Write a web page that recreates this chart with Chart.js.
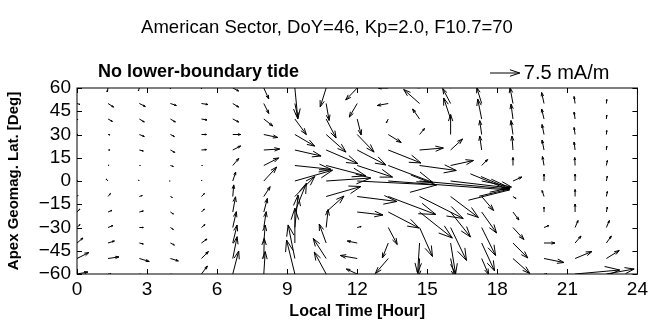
<!DOCTYPE html>
<html>
<head>
<meta charset="utf-8">
<script src="https://cdn.jsdelivr.net/npm/chart.js@4"></script>
<style>
  html, body { margin: 0; padding: 0; background: #fff; }
</style>
</head>
<body>
<canvas id="chart" width="652" height="322"></canvas>
<script>
// grid of the current field: local time columns, latitude rows
const localTime = [0, 1.33, 2.67, 4, 5.33, 6.67, 8, 9.33, 10.67, 12, 13.33, 14.67, 16, 17.33, 18.67, 20, 21.33, 22.67, 24];
const latitude = [60, 50, 40, 30, 20, 10, 0, -10, -20, -30, -40, -50, -60];

// eastward current (mA/m), one row per latitude
const eastward = [
  [0, -0.25, -0.25, 0, 0, 1.5, 1.25, 0.75, -1.5, -2.9, -2.5, -1.25, -1.5, -0.75, -0.75, -0.25, 0, 0, 0],
  [0.75, 1.4, 1.5, 1.5, 1.6, 1.5, 1.25, 0.75, 0.75, -2, -2.75, -4, -2, -1.25, -0.75, -0.6, -0.25, 0.1, 0.75],
  [0.25, 1.1, 1.25, 1.25, 1.4, 1.5, 2.25, 2.9, 2.5, 1, -0.5, -1.75, -1.75, -1, -0.5, -0.6, -0.25, 0.1, 0.25],
  [0.25, 0.5, 1.25, 1, 1.25, 2, 3.5, 5, 5, 4.25, 3.25, 1.25, 0, -0.5, -0.5, -0.5, -0.25, 0.1, 0.25],
  [0.1, 0.5, 1, 1.1, 1.25, 2, 4, 6.6, 8, 7.25, 8.25, 6, 3, -0.5, -0.25, -0.5, -0.25, 0.1, 0.1],
  [0, 0.25, 0.25, 0.75, 0.25, 1.5, 3.75, 9.1, 10, 8.9, 11.25, 9.25, 5.75, 1.5, 0, -0.4, -0.1, 0.25, 0],
  [0.1, -0.5, -0.25, -0.25, 0.1, 0.75, 3.25, 9.5, 11.25, 20, 30.5, 22.75, 15, 7.5, 2.25, 0, 0, 0.25, 0.1],
  [0.25, 0.6, 0.75, 0.5, 0.75, 0.25, 1.6, 5, 8.75, 10, 12, 11, 7, 3, 0.75, -0.5, 0, 0.25, 0.25],
  [0.75, 1, 1, 0.75, 0.75, 0.7, 0.9, 2.9, 4.5, 6.5, 7.75, 8.25, 5, 3.75, 1.5, 0, 0, 0.25, 0.75],
  [0.75, 1.25, 1, 0.75, 0.9, 0.9, 0.6, 0.8, 0.5, 1, 2.25, 3.25, 4, 3.5, 2.75, 1.25, 0.75, 0.75, 0.75],
  [1.5, 1.6, 1, 1, 1.4, 1.1, 0.35, 0, -1.75, -2.5, -1.5, -0.5, 1.25, 3.25, 3.75, 2.75, 1.5, 1.25, 1.5],
  [3, 2.75, 2.5, 2, 1.75, 1.1, 0.1, -1.7, -3.25, -4.25, -3.25, -0.25, 1, 1.75, 4.25, 5, 4.25, 3.25, 3],
  [2.75, 0.75, 0.75, 0.75, 1.5, 1.5, 0.35, -2.1, -3, -2.75, -2.5, 0, 0.25, 0.5, 1.5, 0.75, 11.25, 7, 2.75]
];

// northward current (mA/m), one row per latitude
const northward = [
  [0, -1, -0.75, -0.25, -0.25, -0.75, -2.75, -7.75, -4.75, -3, 0, 0.25, 0.75, 1, 1.25, 0.75, 0.5, 0.25, 0],
  [-0.25, -0.9, -0.75, -0.5, -0.25, -0.9, -2.5, -3.5, -4.25, -3.4, -0.5, 3.5, 3.75, 4, 4, 2.75, 1.75, 1, -0.25],
  [-0.25, -0.6, -0.75, -0.75, -0.25, -0.75, -1.75, -3.9, -4.75, -4, -1, 2.5, 5.25, 5, 3.75, 2.5, 1.75, 1, -0.25],
  [0, -0.1, -0.5, -0.5, 0, 0, -0.75, -2.9, -4.4, -4.4, -2, 1.5, 5, 3.5, 3.5, 2.5, 1.75, 1, 0],
  [0, 0, -0.25, -0.6, 0.1, 1, 0.25, -1.5, -3.4, -3.75, -3.25, 0.5, 2.75, 3.5, 3.5, 2.5, 2, 1, 0],
  [0, 0.1, 0, -0.25, 0, 1.75, 1.9, -0.95, -2.6, -2.9, -4.25, -1.25, 1.25, 1.5, 2, 2.25, 2, 1.25, 0],
  [0.1, 0.5, 0.25, 0, 0.25, 2.25, 3.5, 2.7, 0.75, -1, -2.25, -2, -1.75, -1.5, 1, 1.75, 1.75, 1.25, 0.1],
  [0.25, 0.75, 0.25, -0.25, 0.75, 2.9, 2.45, 5, 2.5, -1.25, -4.5, -5.5, -5.25, -3.5, -0.5, 1.5, 1.75, 1.25, 0.25],
  [0.75, 0.4, 0.25, -0.5, 0.75, 3.8, 3.4, 7.2, 4, -0.75, -4, -6.5, -6.25, -5.25, -2, 1.25, 2, 1.25, 0.75],
  [0.75, 0.5, 0, -0.5, 0.75, 3.95, 3.95, 8.1, 4.5, 0.25, -4.25, -7.25, -8.25, -7, -3, 0.5, 1.75, 1.75, 0.75],
  [1.25, 0.5, -0.25, -0.5, 1, 4.5, 4.5, 8.7, 4.75, 0.5, -3.75, -7.5, -7.75, -7, -3.75, 0, 1.75, 1.75, 1.25],
  [1.5, 0.4, -0.75, -0.6, 1.75, 5.45, 5.05, 8.4, 5, 0.75, -3.75, -4.5, -4.5, -4, -3.75, -1, 1.75, 2, 1.5],
  [0.5, 0, -0.25, -0.25, 2, 5.75, 5.6, 8.5, 5.5, 1.25, -2, -1.25, -1, -1, -0.75, 0, 1, 1.25, 0.5]
];

const xTicks = [0, 3, 6, 9, 12, 15, 18, 21, 24];
const yTicks = [60, 45, 30, 15, 0, -15, -30, -45, -60];
const refVector = 7.5; // mA/m, legend arrow

// arrow length per mA/m, in axis units
const hoursPerUnit = 0.17;
const degPerUnit = 2.58;

const font = 'Liberation Sans, Arial, Helvetica, sans-serif';

const points = [];
latitude.forEach((lat, i) => {
    localTime.forEach((lt, j) => {
        points.push({ x: lt, y: lat, u: eastward[i][j], v: northward[i][j] });
    });
});

// matlab-like quiver head
function drawArrow(ctx, x0, y0, x1, y1) {
    const dx = x1 - x0, dy = y1 - y0;
    if (Math.hypot(dx, dy) < 0.4) return;
    const a = 0.33, b = 0.33;
    ctx.beginPath();
    ctx.moveTo(x0, y0);
    ctx.lineTo(x1, y1);
    ctx.moveTo(x1 - a * (dx + b * dy), y1 - a * (dy - b * dx));
    ctx.lineTo(x1, y1);
    ctx.lineTo(x1 - a * (dx - b * dy), y1 - a * (dy + b * dx));
    ctx.stroke();
}

const quiver = {
    id: 'quiver',
    afterDatasetsDraw(chart) {
        const { ctx, chartArea: area, scales: { x, y } } = chart;
        ctx.save();
        ctx.beginPath();
        ctx.rect(area.left, area.top, area.right - area.left, area.bottom - area.top);
        ctx.clip();
        ctx.strokeStyle = '#000';
        ctx.lineWidth = 1;
        chart.data.datasets[0].data.forEach(p => {
            drawArrow(ctx,
                x.getPixelForValue(p.x), y.getPixelForValue(p.y),
                x.getPixelForValue(p.x + p.u * hoursPerUnit), y.getPixelForValue(p.y + p.v * degPerUnit));
        });
        ctx.restore();
    },
    afterDraw(chart) {
        const { ctx, chartArea: area, scales: { x, y } } = chart;
        ctx.save();
        ctx.strokeStyle = '#000';
        ctx.lineWidth = 1;
        // box
        ctx.strokeRect(area.left, area.top, area.right - area.left, area.bottom - area.top);
        // inward ticks on all sides
        const tl = 5;
        ctx.beginPath();
        xTicks.forEach(v => {
            const px = Math.round(x.getPixelForValue(v)) + 0.5;
            ctx.moveTo(px, area.bottom); ctx.lineTo(px, area.bottom - tl);
            ctx.moveTo(px, area.top); ctx.lineTo(px, area.top + tl);
        });
        yTicks.forEach(v => {
            const py = Math.round(y.getPixelForValue(v)) + 0.5;
            ctx.moveTo(area.left, py); ctx.lineTo(area.left + tl, py);
            ctx.moveTo(area.right, py); ctx.lineTo(area.right - tl, py);
        });
        ctx.stroke();

        // title
        ctx.fillStyle = '#000';
        ctx.textBaseline = 'middle';
        ctx.textAlign = 'center';
        ctx.font = '18.5px ' + font;
        ctx.fillText('American Sector, DoY=46, Kp=2.0, F10.7=70', 327, 28);

        // panel label
        ctx.textAlign = 'left';
        ctx.font = 'bold 18px ' + font;
        ctx.fillText('No lower-boundary tide', 98, 72);

        // reference vector
        const x0 = 490, y0 = 73;
        const len = x.getPixelForValue(refVector * hoursPerUnit) - x.getPixelForValue(0);
        drawArrow(ctx, x0, y0, x0 + len, y0);
        ctx.font = '20px ' + font;
        ctx.fillText(refVector + ' mA/m', x0 + len + 4, 73);
        ctx.restore();
    }
};

new Chart(document.getElementById('chart'), {
    type: 'scatter',
    data: {
        datasets: [{
            data: points,
            pointRadius: 0,
            pointHoverRadius: 0
        }]
    },
    options: {
        responsive: false,
        animation: false,
        devicePixelRatio: 1,
        layout: {
            padding: { top: 88, right: 10, left: 0, bottom: 0 }
        },
        plugins: {
            legend: { display: false },
            tooltip: { enabled: false }
        },
        scales: {
            x: {
                type: 'linear',
                min: 0,
                max: 24,
                afterBuildTicks: s => { s.ticks = xTicks.map(v => ({ value: v })); },
                afterFit: s => { s.height = 48; },
                grid: { display: false, drawTicks: false },
                border: { display: false },
                ticks: {
                    autoSkip: false,
                    maxRotation: 0,
                    padding: 4,
                    color: '#000',
                    font: { family: font, size: 19 }
                },
                title: {
                    display: true,
                    text: 'Local Time [Hour]',
                    color: '#000',
                    padding: { top: 0, bottom: 1 },
                    font: { family: font, size: 16, weight: 'bold' }
                }
            },
            y: {
                type: 'linear',
                min: -60,
                max: 60,
                afterBuildTicks: s => { s.ticks = yTicks.map(v => ({ value: v })); },
                afterFit: s => { s.width = 77; },
                grid: { display: false, drawTicks: false },
                border: { display: false },
                ticks: {
                    autoSkip: false,
                    padding: 6,
                    color: '#000',
                    font: { family: font, size: 19 },
                    callback: v => v < 0 ? '\u2212' + Math.abs(v) : String(v)
                },
                title: {
                    display: true,
                    text: 'Apex Geomag. Lat. [Deg]',
                    color: '#000',
                    padding: { top: 5, bottom: 0 },
                    font: { family: font, size: 15, weight: 'bold' }
                }
            }
        }
    },
    plugins: [quiver]
});
</script>
</body>
</html>
